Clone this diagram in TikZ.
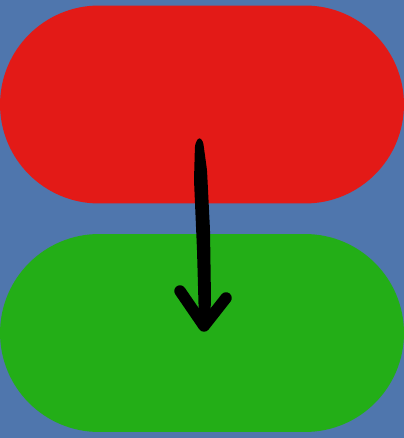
\documentclass[tikz,border=0pt]{standalone}
\usepackage{xcolor}
\usepackage{tikz}
\usetikzlibrary{calc}
\definecolor{bgblue}{HTML}{4F76AD}
\definecolor{pillred}{HTML}{E31A17}
\definecolor{pillgreen}{HTML}{23AE17}
\tikzset{
  pill/.style={
    rectangle,
    rounded corners=1.98cm,
    minimum width=8.08cm,
    minimum height=3.96cm,
    inner sep=0pt,
    outer sep=0pt,
  },
  arrow shaft/.style={fill=black, rounded corners=0.06cm},
  arrow head/.style={draw=black, line width=0.23cm, line cap=round, line join=round},
}

\begin{document}
\begin{tikzpicture}[x=0.02cm, y=-0.02cm]
  \fill[bgblue] (0,0) rectangle (404,438);
  \useasboundingbox (0,0) rectangle (404,438);

  \node[pill, fill=pillred] (first) at (202,104.5) {};
  \node[pill, fill=pillgreen] (second) at (202,333) {};

  \coordinate (tail) at ($(first.center)+(-3,34.5)$);
  \coordinate (tip) at ($(second.center)+(2,-7)$);

  % hand drawn arrow
  \begin{scope}[shift={(tail)}]
    \fill[arrow shaft] (0,-2) -- (4,2) -- (8,31) -- (11,91) -- (12,161)
      -- (11,183) -- (0,183) -- (-2,111) -- (-5,41) -- (-4,5) -- cycle;
  \end{scope}
  \draw[arrow head] ($(tip)+(-24,-35)$) -- (tip) -- ($(tip)+(22,-28)$);
\end{tikzpicture}
\end{document}
